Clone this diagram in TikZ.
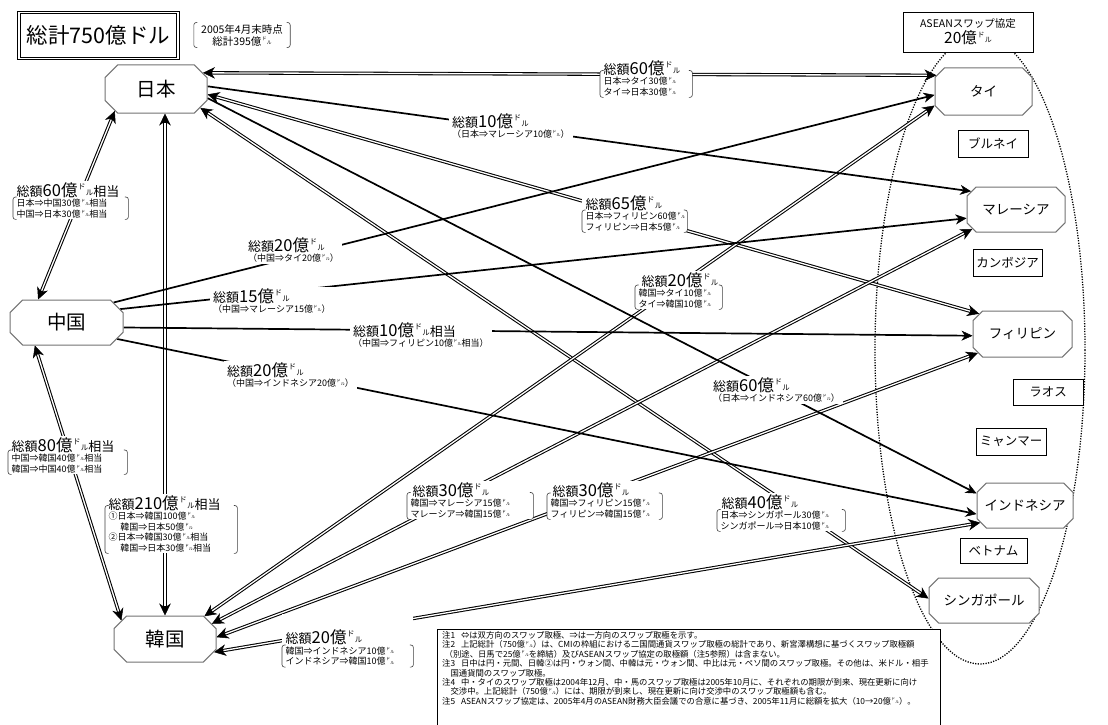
\documentclass[tikz,border=0pt]{standalone}
\usepackage{fontspec}
\usepackage{graphicx}
\setmainfont{Noto Sans CJK JP}
\usetikzlibrary{arrows.meta,shapes.misc}
\pgfdeclarelayer{ellayer}
\pgfdeclarelayer{connlayer}
\pgfsetlayers{ellayer,connlayer,main}
\newcommand\dr{{\kern.04em\raisebox{.42em}{\scalebox{.45}{ド}}\kern.02em\raisebox{.06em}{\scalebox{.45}{ル}}}}
\newcommand\ttl[2][]{{\fontsize{13}{15}\selectfont 総額}{\fontsize{16.5}{18}\selectfont #2億\dr}{\fontsize{13}{15}\selectfont #1}}
\newcommand\brkts[2]{%
  \draw[brkline] ([xshift=3.5pt,yshift=-#2pt]#1.north west) -- ([yshift=-#2pt]#1.north west) -- (#1.south west) -- ([xshift=3.5pt]#1.south west);
  \draw[brkline] ([xshift=-3.5pt,yshift=-#2pt]#1.north east) -- ([yshift=-#2pt]#1.north east) -- (#1.south east) -- ([xshift=-3.5pt]#1.south east);}
\newcommand\bigf{\fontsize{19.5}{22}\selectfont}
\newcommand\medf{\fontsize{13.5}{16}\selectfont}
\tikzset{
  stip/.tip={Stealth[length=11pt,width=10pt,inset=3.5pt,line width=0.5pt]},
  dtip/.tip={Stealth[length=12pt,width=11.5pt,inset=4pt,line width=0.5pt]},
  sgl/.style={line width=1.7pt,-stip},
  dbl/.style={draw=white,line width=1.3pt,shorten <=9.5pt,shorten >=9.5pt,
    preaction={draw=black,line width=3.4pt,shorten <=0pt,shorten >=0pt,dtip-dtip}},
  oct/.style={chamfered rectangle,chamfered rectangle xsep=10pt,draw=black!55,line width=1pt,fill=white,inner sep=0pt},
  bigoct/.style={oct,font=\bigf},
  smoct/.style={oct,font=\medf},
  cbox/.style={draw,line width=0.8pt,fill=white,font=\fontsize{12.5}{14}\selectfont,inner sep=0pt},
  lab/.style={fill=white,inner xsep=3.5pt,inner ysep=1.5pt,align=left,anchor=north west,font=\fontsize{9}{10.5}\selectfont},
  brkline/.style={line width=0.6pt,draw=black!75,rounded corners=2.5pt},
  ell/.style={line width=1.3pt,dash pattern=on 1.2pt off 1.4pt},
}
\begin{document}
\begin{tikzpicture}[x=1pt,y=-1pt]
\begin{pgfonlayer}{ellayer}
\fill[white] (0,0) rectangle (1108,725);
\end{pgfonlayer}
\useasboundingbox (0,0) rectangle (1108,725);

% country nodes
\node[bigoct,minimum width=102pt,minimum height=48pt] (jp) at (156,89) {日本};
\node[bigoct,minimum width=113pt,minimum height=45pt] (cn) at (66.5,322.5) {中国};
\node[bigoct,minimum width=102pt,minimum height=46pt] (kr) at (165,639) {韓国};
\node[smoct,minimum width=97pt,minimum height=47pt] (th) at (983.5,91.5) {タイ};
\node[smoct,minimum width=98pt,minimum height=45pt] (my) at (1016,209.5) {マレーシア};
\node[smoct,minimum width=99pt,minimum height=46pt] (ph) at (1022.5,334) {フィリピン};
\node[smoct,minimum width=96pt,minimum height=45pt] (id) at (1025,505.5) {インドネシア};
\node[smoct,minimum width=110pt,minimum height=45pt] (sg) at (984,600.5) {シンガポール};

% other ASEAN members
\node[cbox,minimum width=70pt,minimum height=27pt] (bn) at (993,143.5) {ブルネイ};
\node[cbox,minimum width=69pt,minimum height=27pt] (kh) at (1007.5,262.5) {カンボジア};
\node[cbox,minimum width=70pt,minimum height=26pt] (la) at (1048,392) {ラオス};
\node[cbox,minimum width=70pt,minimum height=27pt] (mm) at (1011,441.5) {ミャンマー};
\node[cbox,minimum width=67pt,minimum height=25pt] (vn) at (993.5,551) {ベトナム};

% ASEAN ellipse
\begin{pgfonlayer}{ellayer}
\draw[ell] (980,350) ellipse [x radius=105, y radius=314];
\end{pgfonlayer}

\node[draw,line width=0.8pt,fill=white,minimum width=130pt,minimum height=40pt,align=center,inner sep=0pt] (asean) at (968,32)
  {{\fontsize{10.5}{12}\selectfont ASEANスワップ協定}\\[1pt]{\fontsize{15.5}{17}\selectfont 20億\dr}};

% connectors
\begin{pgfonlayer}{connlayer}
\draw[dbl] (jp.19) -- (th.161);
\draw[dbl] (jp.-6) -- (ph.155);
\draw[dbl] (jp.-23) -- (sg.178);
\draw[dbl] (jp.south -| kr.north) -- (kr.north);
\draw[dbl] (jp.-152) -- (cn.141);
\draw[dbl] (cn.-144) -- (kr.157);
\draw[dbl] (kr.30) -- (th.-164);
\draw[dbl] (kr.18) -- (my.-156);
\draw[dbl] (kr.2) -- (ph.-157);
\draw[dbl] (kr.-15) -- (id.-159);
\draw[sgl] (jp.3) -- (my.158);
\draw[sgl] (jp.-10) -- (id.166);
\draw[sgl] (cn.23) -- (th.-176);
\draw[sgl] (cn.14) -- (my.-170);
\draw[sgl] (cn.-5) -- (ph.-178);
\draw[sgl] (cn.-18) -- (id.-170);
\end{pgfonlayer}

% title and date
\node[draw,double,double distance=1.6pt,line width=0.9pt,fill=white,minimum width=159pt,minimum height=46pt,inner sep=0pt,font=\fontsize{21.5}{24}\selectfont] (total) at (98.5,35.5) {総計750億ドル};
\node[lab,anchor=center,align=center,text width=89pt,font=\fontsize{10.5}{12}\selectfont] (date) at (242,35) {2005年4月末時点\\総計395億\dr};
\brkts{date}{0}

% labels
\node[lab,text width=85pt] (Ljt) at (600,58.5) {\ttl{60}\\日本⇒タイ30億\dr\\タイ⇒日本30億\dr};
\node[lab] (Ljm) at (448.5,111.5) {\ttl{10}\\（日本⇒マレーシア10億\dr）};
\node[lab,text width=98pt] (Ljp) at (582,193.5) {\ttl{65}\\日本⇒フィリピン60億\dr\\フィリピン⇒日本5億\dr};
\node[lab,text width=108pt] (Ljc) at (13,180.5) {\ttl[相当]{60}\\日本⇒中国30億\dr 相当\\中国⇒日本30億\dr 相当};
\node[lab] (Lct) at (244.5,235.5) {\ttl{20}\\（中国⇒タイ20億\dr）};
\node[lab] (Lcm) at (209.5,286.5) {\ttl{15}\\（中国⇒マレーシア15億\dr）};
\node[lab] (Lcp) at (349.5,320.5) {\ttl[相当]{10}\\（中国⇒フィリピン10億\dr 相当）};
\node[lab] (Lci) at (223.5,360.5) {\ttl{20}\\（中国⇒インドネシア20億\dr）};
\node[lab,text width=80pt] (Lkt) at (635,270.5) {\hspace*{3pt}\ttl{20}\\韓国⇒タイ10億\dr\\タイ⇒韓国10億\dr};
\node[lab] (Lji) at (709.5,375.5) {\ttl{60}\\（日本⇒インドネシア60億\dr）};
\node[lab,text width=112pt] (Lck) at (8,435.5) {\ttl[相当]{80}\\中国⇒韓国40億\dr 相当\\韓国⇒中国40億\dr 相当};
\node[lab,text width=125pt] (Ljk) at (105,493.5) {\ttl[相当]{210}\\①日本⇒韓国100億\dr\\\hspace*{1.3em}韓国⇒日本50億\dr\\②日本⇒韓国30億\dr 相当\\\hspace*{1.3em}韓国⇒日本30億\dr 相当};
\node[lab,text width=119pt] (Lkm) at (407,480.5) {\hspace*{2pt}\ttl{30}\\韓国⇒マレーシア15億\dr\\マレーシア⇒韓国15億\dr};
\node[lab,text width=108pt] (Lkp) at (547,480.5) {\hspace*{2pt}\ttl{30}\\韓国⇒フィリピン15億\dr\\フィリピン⇒韓国15億\dr};
\node[lab,text width=121pt] (Ljs) at (717,492.5) {\hspace*{1pt}\ttl{40}\\日本⇒シンガポール30億\dr\\シンガポール⇒日本10億\dr};
\node[lab,text width=124pt] (Lki) at (282,614) {\rule{0pt}{28pt}\ttl{20}\\韓国⇒インドネシア10億\dr\\インドネシア⇒韓国10億\dr};

\brkts{Ljt}{12}
\brkts{Ljp}{16.5}
\brkts{Ljc}{16.5}
\brkts{Lkt}{14.5}
\brkts{Lck}{14.5}
\brkts{Ljk}{12}
\brkts{Lkm}{12}
\brkts{Lkp}{12.5}
\brkts{Ljs}{17}
\brkts{Lki}{31}

% notes
\node[draw,line width=0.8pt,fill=white,minimum width=503pt,minimum height=101pt,anchor=north west,inner sep=0pt] (notebox) at (437,629) {};
\node[anchor=north west,align=left,inner sep=0pt,font=\fontsize{8.35}{9.45}\selectfont] (notes) at (442,631) {%
注1\hspace{0.7em}⇔は双方向のスワップ取極、⇒は一方向のスワップ取極を示す。\\
注2\hspace{0.7em}上記総計（750億\dr）は、CMIの枠組における二国間通貨スワップ取極の総計であり、新宮澤構想に基づくスワップ取極額\\
\hspace*{0.3em}（別途、日馬で25億\dr を締結）及びASEANスワップ協定の取極額（注5参照）は含まない。\\
注3\hspace{0.7em}日中は円・元間、日韓②は円・ウォン間、中韓は元・ウォン間、中比は元・ペソ間のスワップ取極。その他は、米ドル・相手\\
\hspace*{1em}国通貨間のスワップ取極。\\
注4\hspace{0.7em}中・タイのスワップ取極は2004年12月、中・馬のスワップ取極は2005年10月に、それぞれの期限が到来、現在更新に向け\\
\hspace*{1em}交渉中。上記総計（750億\dr）には、期限が到来し、現在更新に向け交渉中のスワップ取極額も含む。\\
注5\hspace{0.7em}ASEANスワップ協定は、2005年4月のASEAN財務大臣会議での合意に基づき、2005年11月に総額を拡大（10→20億\dr）。};
\end{tikzpicture}
\end{document}
